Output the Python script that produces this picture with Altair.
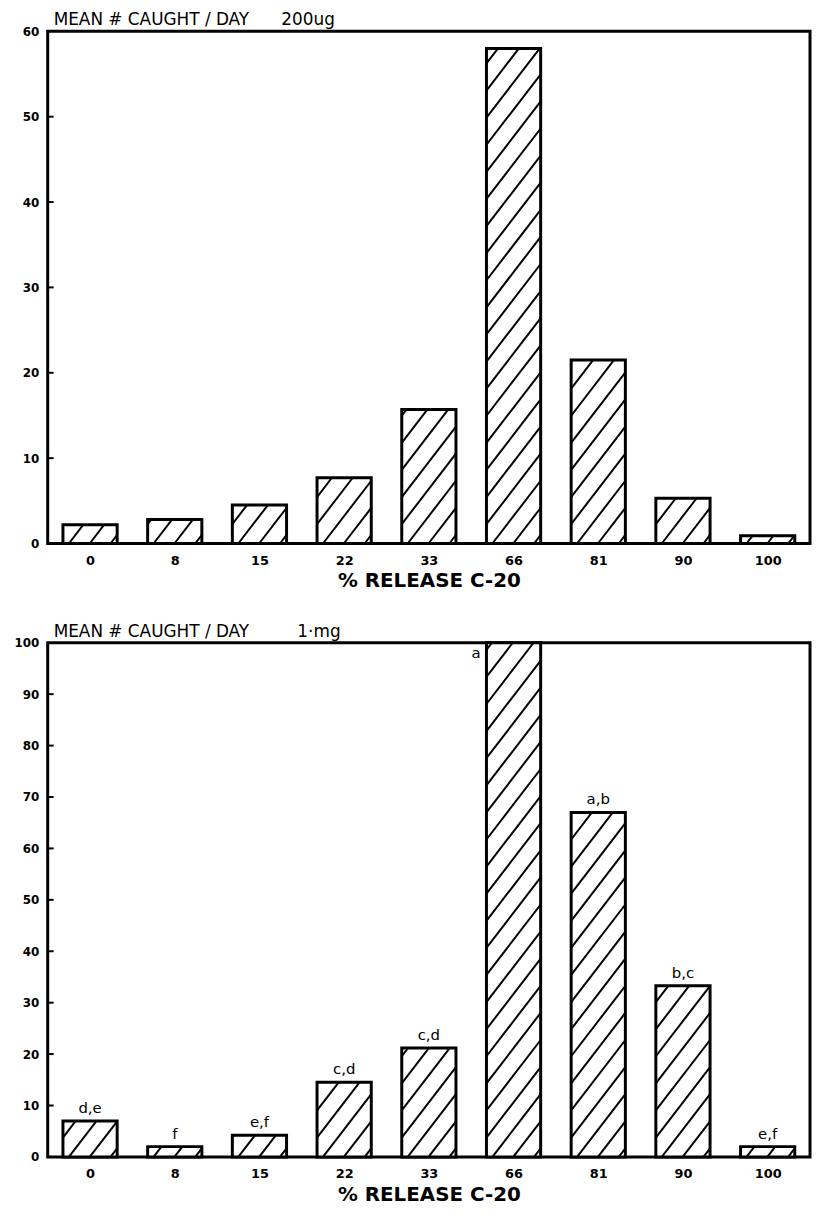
import json
import math
import altair as alt
import pandas as pd

# ---- data ----
categories = ["0", "8", "15", "22", "33", "66", "81", "90", "100"]
values_200ug = [2.2, 2.8, 4.5, 7.7, 15.7, 58.0, 21.5, 5.3, 0.9]
values_1mg = [7.0, 2.0, 4.2, 14.5, 21.2, 100.0, 67.0, 33.3, 2.0]
letters_1mg = ["d,e", "f", "e,f", "c,d", "c,d", "a", "a,b", "b,c", "e,f"]

title_200ug = "MEAN # CAUGHT / DAY\u00a0\u00a0\u00a0\u00a0\u00a0\u00a0200ug"
title_1mg = "MEAN # CAUGHT / DAY\u00a0\u00a0\u00a0\u00a0\u00a0\u00a0\u00a0\u00a0\u00a01·mg"
x_title = "% RELEASE C-20"

# ---- geometry / style ----
DOM = [-0.5, 8.5]
HALF = 0.32
FONT = "DejaVu Sans"


def hatch_segments(values, W, H, ymax, slope=1.3, step=21.0, phase=6.0):
    ppx = W / (DOM[1] - DOM[0])
    ppy = H / ymax
    rows = []
    for i, v in enumerate(values):
        x0 = (i - HALF - DOM[0]) * ppx
        x1 = (i + HALF - DOM[0]) * ppx
        h = v * ppy
        kmin = -int(math.ceil(h / (slope * step))) - 1
        kmax = int(math.ceil((x1 - x0) / step)) + 1
        for k in range(kmin, kmax + 1):
            a = x0 + phase + k * step
            xs = max(x0, a)
            xe = min(x1, a + h / slope)
            if xe - xs > 1.0:
                rows.append({
                    "x0": xs / ppx + DOM[0],
                    "v": slope * (xs - a) / ppy,
                    "x1": xe / ppx + DOM[0],
                    "hy2": slope * (xe - a) / ppy,
                })
    return pd.DataFrame(rows)


def panel(values, W, H, ymax, title, letters=None, label_pad=12, title_pad=0):
    df = pd.DataFrame({"idx": list(range(len(categories))), "cat": categories, "v": values})
    xsc = alt.Scale(domain=DOM, nice=False, zero=False)
    ysc = alt.Scale(domain=[0, ymax], nice=False)
    label_expr = json.dumps(categories) + "[round(datum.value)]"
    xaxis = alt.Axis(values=list(range(len(categories))), labelExpr=label_expr,
                     title=x_title, ticks=False, grid=False, domain=False,
                     labelFont=FONT, labelFontWeight="bold", labelFontSize=13,
                     labelColor="black", labelPadding=label_pad,
                     titleFont=FONT, titleFontWeight="bold", titleFontSize=20,
                     titleColor="black", titlePadding=title_pad)
    yaxis = alt.Axis(values=list(range(0, ymax + 1, 10)), title=None, ticks=False,
                     grid=False, domain=False, labelFont=FONT, labelFontWeight="bold",
                     labelFontSize=12, labelColor="black", labelPadding=9)

    def X(field):
        return alt.X(field, scale=xsc, axis=xaxis)

    def Y(field):
        return alt.Y(field, scale=ysc, axis=yaxis)

    bars = alt.Chart(df).transform_calculate(
        x0=f"datum.idx - {HALF}", x1=f"datum.idx + {HALF}", zero="0"
    ).mark_rect(fill="white", stroke="black", strokeWidth=3).encode(
        x=X("x0:Q"), x2="x1:Q", y=Y("v:Q"), y2="zero:Q",
    )

    hd = hatch_segments(values, W, H, ymax)
    hatch = alt.Chart(hd).mark_rule(stroke="black", strokeWidth=2).encode(
        x=X("x0:Q"), x2="x1:Q", y=Y("v:Q"), y2="hy2:Q",
    )

    tdf = pd.DataFrame({"v": list(range(10, ymax, 10))})
    ticks = alt.Chart(tdf).mark_rule(stroke="black", strokeWidth=2).encode(
        x=alt.value(0), x2=alt.value(6), y=Y("v:Q"),
    )

    head = alt.Chart(pd.DataFrame({"t": [title]})).mark_text(
        font=FONT, fontSize=17, align="left", baseline="alphabetic", color="black"
    ).encode(x=alt.value(6), y=alt.value(-6), text="t:N")

    layers = [bars, hatch, ticks, head]
    if letters is not None:
        ldf = pd.DataFrame({"idx": list(range(len(categories))), "v": values, "lab": letters})
        above = alt.Chart(ldf).transform_filter(f"datum.v < {ymax * 0.95}").transform_calculate(
            x0="datum.idx"
        ).mark_text(
            font=FONT, fontSize=15, baseline="bottom", dy=-5, color="black"
        ).encode(x=X("x0:Q"), y=Y("v:Q"), text="lab:N")
        inside = alt.Chart(ldf).transform_filter(f"datum.v >= {ymax * 0.95}").transform_calculate(
            x0=f"datum.idx - {HALF}"
        ).mark_text(
            font=FONT, fontSize=15, baseline="top", align="right", dx=-6, dy=3, color="black"
        ).encode(x=X("x0:Q"), y=Y("v:Q"), text="lab:N")
        layers += [above, inside]

    return alt.layer(*layers).properties(width=W, height=H)


top = panel(values_200ug, 768, 516, 60, title_200ug, label_pad=11, title_pad=3)
bottom = panel(values_1mg, 768, 518, 100, title_1mg, letters_1mg, label_pad=11, title_pad=4)

chart = alt.vconcat(top, bottom, spacing=29).properties(
    padding={"left": 4, "top": -3, "right": 0, "bottom": 0},
    background="white",
).configure_view(stroke="black", strokeWidth=3)

chart.save("out.html", embed_options={"renderer": "svg", "actions": False})
